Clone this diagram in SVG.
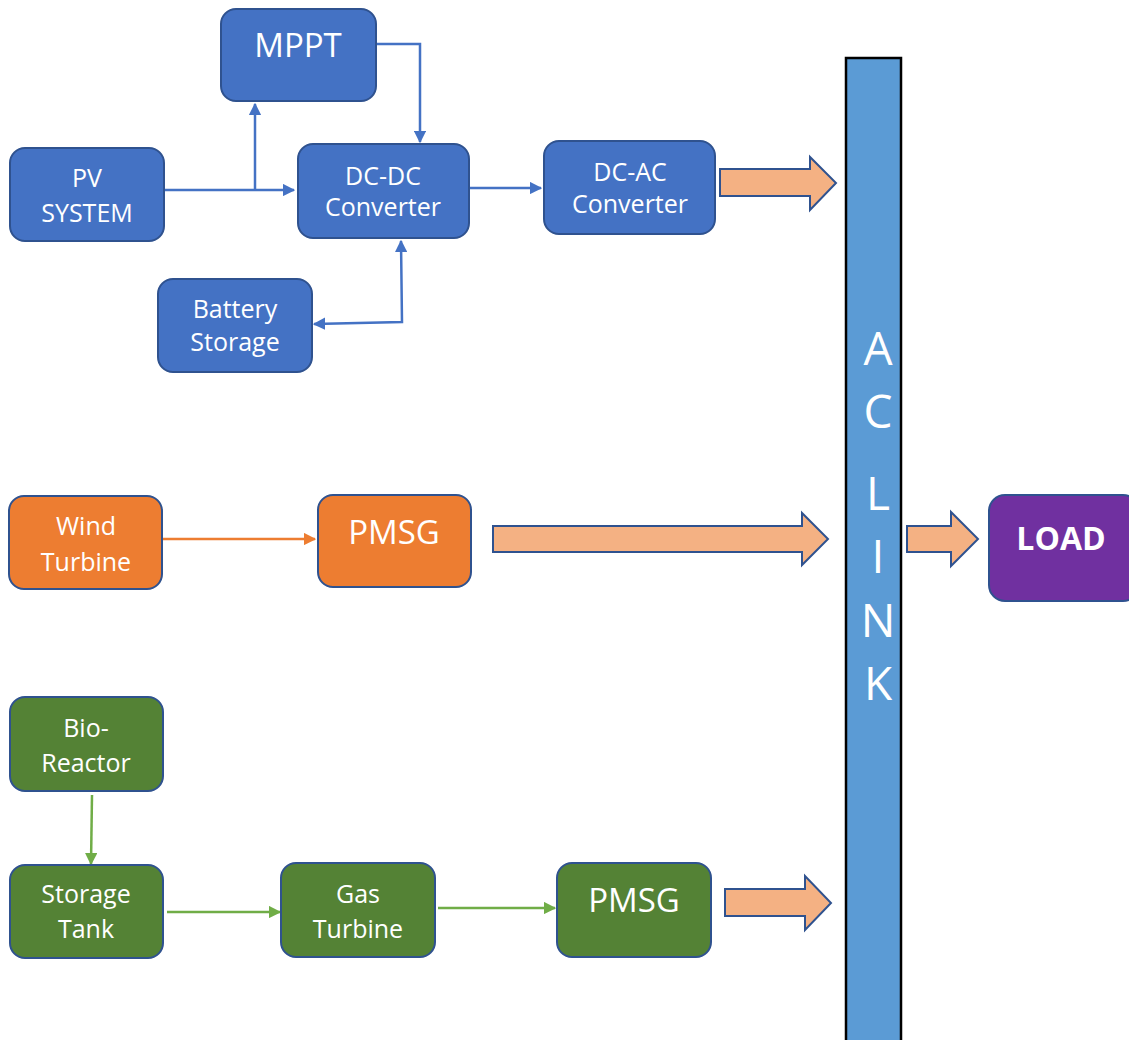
<svg xmlns="http://www.w3.org/2000/svg" width="1129" height="1040" viewBox="0 0 1129 1040">
<defs>
<marker id="ab" viewBox="0 0 10 10" refX="9" refY="5" markerWidth="5" markerHeight="5" orient="auto-start-reverse" markerUnits="strokeWidth"><path d="M0,0 L10,5 L0,10 z" fill="#4472C4"/></marker>
<marker id="ao" viewBox="0 0 10 10" refX="9" refY="5" markerWidth="5" markerHeight="5" orient="auto" markerUnits="strokeWidth"><path d="M0,0 L10,5 L0,10 z" fill="#ED7D31"/></marker>
<marker id="ag" viewBox="0 0 10 10" refX="9" refY="5" markerWidth="5" markerHeight="5" orient="auto" markerUnits="strokeWidth"><path d="M0,0 L10,5 L0,10 z" fill="#70AD47"/></marker>
</defs>
<style>
.n rect{stroke:#2F528F;stroke-width:2}
.blue rect{fill:#4472C4}
.orange rect{fill:#ED7D31}
.green rect{fill:#548235}
.purple rect{fill:#7030A0}
text{font-family:"Open Sans","Noto Sans","DejaVu Sans",sans-serif;fill:#fff;text-anchor:middle;font-size:25px}
.big{font-size:33px}
.bold{font-weight:bold;font-size:32px}
.bar text{font-size:46px}
.fat{fill:#F4B183;stroke:#2F528F;stroke-width:2;stroke-linejoin:miter}
.cb{fill:none;stroke:#4472C4;stroke-width:2.5}
.co{fill:none;stroke:#ED7D31;stroke-width:2.5}
.cg{fill:none;stroke:#70AD47;stroke-width:2.5}
</style>
<rect width="1129" height="1040" fill="#fff"/>

<g id="aclink" class="bar">
<rect x="846" y="58" width="55" height="1000" fill="#5B9BD5" stroke="#000" stroke-width="2.5"/>
<text x="878" y="365">A</text>
<text x="878" y="428">C</text>
<text x="878" y="510">L</text>
<text x="878" y="573">I</text>
<text x="878" y="637">N</text>
<text x="878" y="700">K</text>
</g>

<g id="connectors">
<polyline class="cb" points="164,190 294,190" marker-end="url(#ab)"/>
<polyline class="cb" points="255,190 255,104" marker-end="url(#ab)"/>
<polyline class="cb" points="376,44 420,44 420,142" marker-end="url(#ab)"/>
<polyline class="cb" points="469,188 541,188" marker-end="url(#ab)"/>
<polyline class="cb" points="401,241 402,322 314,324" marker-start="url(#ab)" marker-end="url(#ab)"/>
<polyline class="co" points="163,539 315,539" marker-end="url(#ao)"/>
<polyline class="cg" points="92,795 91,864" marker-end="url(#ag)"/>
<polyline class="cg" points="167,912 280,912" marker-end="url(#ag)"/>
<polyline class="cg" points="438,908 555,908" marker-end="url(#ag)"/>
<path class="fat" d="M720,169 L810,169 L810,157 L836,183 L810,210 L810,196 L720,196 Z"/>
<path class="fat" d="M493,526 L802,526 L802,513 L828,539 L802,565 L802,552 L493,552 Z"/>
<path class="fat" d="M725,889 L805,889 L805,876 L831,903 L805,930 L805,916 L725,916 Z"/>
<path class="fat" d="M907,526 L951,526 L951,512 L978,539 L951,566 L951,552 L907,552 Z"/>
</g>

<g id="mppt" class="n blue"><rect x="221" y="9" width="155" height="92" rx="15"/><text class="big" x="298" y="57">MPPT</text></g>
<g id="pv" class="n blue"><rect x="10" y="148" width="154" height="93" rx="15"/><text x="87" y="187">PV</text><text x="87" y="222">SYSTEM</text></g>
<g id="dcdc" class="n blue"><rect x="298" y="144" width="171" height="94" rx="15"/><text x="383" y="185">DC-DC</text><text x="383" y="216">Converter</text></g>
<g id="dcac" class="n blue"><rect x="544" y="141" width="171" height="93" rx="15"/><text x="630" y="181">DC-AC</text><text x="630" y="213">Converter</text></g>
<g id="battery" class="n blue"><rect x="158" y="279" width="154" height="93" rx="15"/><text x="235" y="318">Battery</text><text x="235" y="351">Storage</text></g>

<g id="wind" class="n orange"><rect x="9" y="496" width="153" height="93" rx="15"/><text x="86" y="535">Wind</text><text x="86" y="571">Turbine</text></g>
<g id="pmsg1" class="n orange"><rect x="318" y="495" width="153" height="92" rx="15"/><text class="big" x="394" y="544">PMSG</text></g>

<g id="load" class="n purple"><rect x="989" y="495" width="150" height="106" rx="16"/><text class="bold" x="1061" y="550">LOAD</text></g>

<g id="bio" class="n green"><rect x="10" y="697" width="153" height="94" rx="15"/><text x="86" y="737">Bio-</text><text x="86" y="772">Reactor</text></g>
<g id="tank" class="n green"><rect x="10" y="865" width="153" height="93" rx="15"/><text x="86" y="903">Storage</text><text x="86" y="938">Tank</text></g>
<g id="gas" class="n green"><rect x="281" y="863" width="154" height="94" rx="15"/><text x="358" y="903">Gas</text><text x="358" y="938">Turbine</text></g>
<g id="pmsg2" class="n green"><rect x="557" y="863" width="154" height="94" rx="15"/><text class="big" x="634" y="912">PMSG</text></g>
</svg>
